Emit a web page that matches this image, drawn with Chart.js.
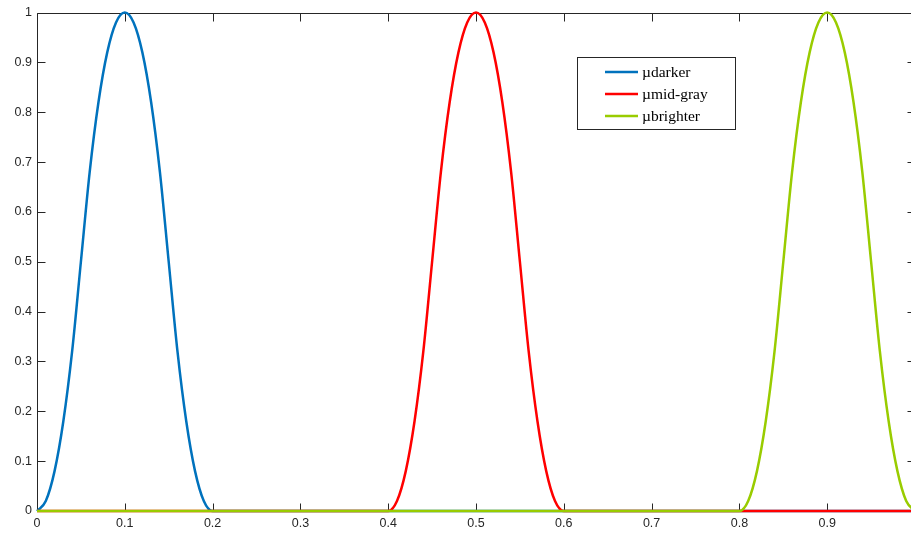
<!DOCTYPE html>
<html>
<head>
<meta charset="utf-8">
<script src="https://cdn.jsdelivr.net/npm/chart.js@4/dist/chart.umd.min.js"></script>
<style>
  html, body { margin: 0; padding: 0; background: #fff; overflow: hidden; }
  #wrap { width: 920px; height: 538px; }
</style>
</head>
<body>
<div id="wrap"><canvas id="chart" width="920" height="538"></canvas></div>
<script>
// series (x positions and membership values)
const darkerX = [0, 0.01, 0.02, 0.03, 0.04, 0.05, 0.06, 0.07, 0.08, 0.09, 0.1,
  0.11, 0.12, 0.13, 0.14, 0.15, 0.16, 0.17, 0.18, 0.19, 0.2, 1];
const darkerY = [0, 0.02, 0.08, 0.18, 0.32, 0.5, 0.68, 0.82, 0.92, 0.98, 1,
  0.98, 0.92, 0.82, 0.68, 0.5, 0.32, 0.18, 0.08, 0.02, 0, 0];

const midX = [0, 0.4, 0.41, 0.42, 0.43, 0.44, 0.45, 0.46, 0.47, 0.48, 0.49, 0.5,
  0.51, 0.52, 0.53, 0.54, 0.55, 0.56, 0.57, 0.58, 0.59, 0.6, 1];
const midY = [0, 0, 0.02, 0.08, 0.18, 0.32, 0.5, 0.68, 0.82, 0.92, 0.98, 1,
  0.98, 0.92, 0.82, 0.68, 0.5, 0.32, 0.18, 0.08, 0.02, 0, 0];

const brighterX = [0, 0.8, 0.81, 0.82, 0.83, 0.84, 0.85, 0.86, 0.87, 0.88, 0.89, 0.9,
  0.91, 0.92, 0.93, 0.94, 0.95, 0.96, 0.97, 0.98, 0.99, 1];
const brighterY = [0, 0, 0.02, 0.08, 0.18, 0.32, 0.5, 0.68, 0.82, 0.92, 0.98, 1,
  0.98, 0.92, 0.82, 0.68, 0.5, 0.32, 0.18, 0.08, 0.02, 0];

const seriesLabels = ["\u00b5darker", "\u00b5mid-gray", "\u00b5brighter"];
const seriesColors = ["#0072bd", "#ff0000", "#99cc00"];
const xTicks = [0, 0.1, 0.2, 0.3, 0.4, 0.5, 0.6, 0.7, 0.8, 0.9, 1];
const yTicks = [0, 0.1, 0.2, 0.3, 0.4, 0.5, 0.6, 0.7, 0.8, 0.9, 1];

const toPoints = (xs, ys) => xs.map((x, i) => ({ x: x, y: ys[i] }));

const axisColor = "#262626";
const tickFont = { family: "'Liberation Sans', Arial, sans-serif", size: 12.5 };

// MATLAB-style box with inward tick marks
const boxPlugin = {
  id: "box",
  beforeDatasetsDraw(chart) {
    const { ctx, chartArea: a, scales } = chart;
    const len = 8;
    ctx.save();
    ctx.strokeStyle = axisColor;
    ctx.lineWidth = 1;
    ctx.beginPath();
    const L = Math.round(a.left) + 0.5, R = Math.round(a.right) + 0.5;
    const T = Math.round(a.top) + 0.5, B = Math.round(a.bottom) + 0.5;
    ctx.moveTo(L, B); ctx.lineTo(L, T); ctx.lineTo(R, T); ctx.lineTo(R, B); ctx.lineTo(L, B);
    xTicks.forEach(v => {
      const px = Math.round(scales.x.getPixelForValue(v)) + 0.5;
      ctx.moveTo(px, B); ctx.lineTo(px, B - len);
      ctx.moveTo(px, T); ctx.lineTo(px, T + len);
    });
    yTicks.forEach(v => {
      const py = Math.round(scales.y.getPixelForValue(v)) + 0.5;
      ctx.moveTo(L, py); ctx.lineTo(L + len, py);
      ctx.moveTo(R, py); ctx.lineTo(R - len, py);
    });
    ctx.stroke();
    ctx.restore();
  }
};

// boxed legend in the upper right of the plot
const legendPlugin = {
  id: "boxLegend",
  afterDatasetsDraw(chart) {
    const ctx = chart.ctx;
    ctx.save();
    ctx.fillStyle = "#fff";
    ctx.fillRect(577, 57, 158, 72);
    ctx.strokeStyle = axisColor;
    ctx.lineWidth = 1;
    ctx.strokeRect(577.5, 57.5, 158, 72);
    ctx.font = "15.5px 'Liberation Serif', 'Times New Roman', serif";
    ctx.textBaseline = "middle";
    chart.data.datasets.forEach((ds, i) => {
      const y = 72 + i * 22;
      ctx.strokeStyle = ds.borderColor;
      ctx.lineWidth = 2.5;
      ctx.beginPath();
      ctx.moveTo(605, y);
      ctx.lineTo(638, y);
      ctx.stroke();
      ctx.fillStyle = "#000";
      ctx.fillText(ds.label, 642, y + 1);
    });
    ctx.restore();
  }
};

new Chart(document.getElementById("chart"), {
  type: "line",
  data: {
    datasets: [
      { label: seriesLabels[0], data: toPoints(darkerX, darkerY), borderColor: seriesColors[0], order: 3 },
      { label: seriesLabels[1], data: toPoints(midX, midY), borderColor: seriesColors[1], order: 2 },
      { label: seriesLabels[2], data: toPoints(brighterX, brighterY), borderColor: seriesColors[2], order: 1 },
    ],
  },
  options: {
    responsive: false,
    animation: false,
    layout: { padding: { top: 11, right: 4, left: 0, bottom: 0 } },
    elements: {
      point: { radius: 0 },
      line: { borderWidth: 2.5, cubicInterpolationMode: "monotone", fill: false },
    },
    datasets: { line: { clip: 6 } },
    plugins: { legend: { display: false }, tooltip: { enabled: false } },
    scales: {
      x: {
        type: "linear",
        min: 0,
        max: 1,
        afterFit: s => { s.height = 27; },
        afterBuildTicks: s => { s.ticks = xTicks.map(v => ({ value: v })); },
        grid: { display: false, drawTicks: false },
        border: { display: false },
        ticks: {
          padding: 5,
          maxRotation: 0,
          color: axisColor,
          font: tickFont,
          callback: v => (v >= 1 ? "" : String(+v.toFixed(1))),
        },
      },
      y: {
        min: 0,
        max: 1,
        afterFit: s => { s.width = 37; },
        afterBuildTicks: s => { s.ticks = yTicks.map(v => ({ value: v })); },
        grid: { display: false, drawTicks: false },
        border: { display: false },
        ticks: {
          padding: 5,
          color: axisColor,
          font: tickFont,
          callback: v => String(+v.toFixed(1)),
        },
      },
    },
  },
  plugins: [boxPlugin, legendPlugin],
});
</script>
</body>
</html>
